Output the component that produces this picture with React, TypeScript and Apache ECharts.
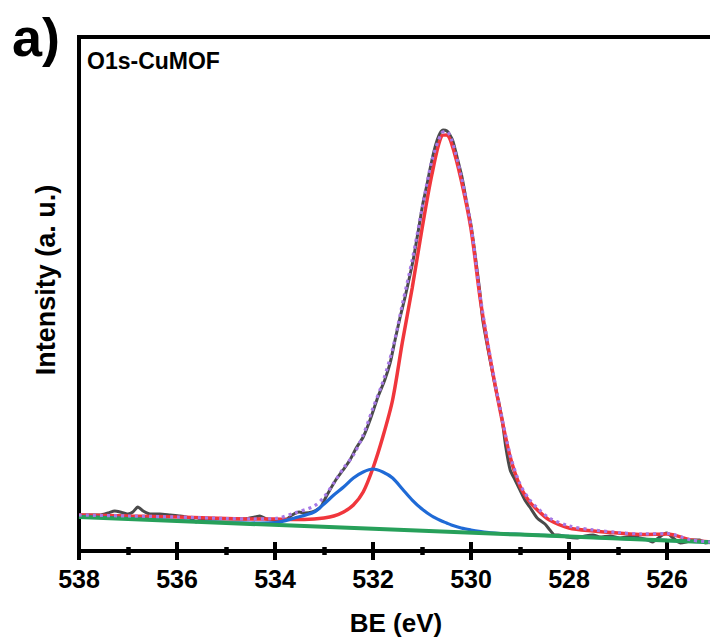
import React, { useEffect, useRef } from "react";
import * as echarts from "echarts";

// Binding energy grid of fitted curves (eV)
const beFit = [538, 537, 536, 535, 534.5, 534, 533.6, 533.2, 533.0, 532.8, 532.6, 532.4, 532.2, 532.0, 531.8, 531.6, 531.4, 531.2, 531.0, 530.8, 530.6, 530.5, 530.4, 530.2, 530.0, 529.8, 529.6, 529.4, 529.2, 529.0, 528.8, 528.6, 528.4, 528.0, 527.5, 527.0, 526.5, 526.0, 525.5, 525.1];

// Main component (red)
const peakMain = [7.0, 6.81, 6.61, 6.32, 6.23, 6.23, 6.13, 6.23, 6.42, 6.81, 7.59, 8.95, 11.48, 16.15, 22.18, 29.38, 40.66, 51.17, 62.65, 73.15, 80.74, 80.93, 79.38, 72.18, 62.65, 48.25, 36.96, 27.04, 18.29, 12.65, 9.53, 7.59, 6.03, 4.47, 3.89, 3.5, 3.21, 3.31, 2.14, 1.75];

// Second component (blue)
const peakSecond = [6.71, 6.32, 5.93, 5.54, 5.45, 5.54, 6.42, 7.59, 9.14, 10.89, 12.45, 14.2, 15.37, 15.95, 15.37, 14.2, 12.06, 9.92, 8.17, 6.81, 5.84, 5.45, 5.06, 4.47, 4.09, 3.79, 3.54, 3.4, 3.31, 3.23, 3.15, 3.07, 3.0, 2.84, 2.65, 2.45, 2.28, 2.08, 1.89, 1.73];

// Envelope (purple dotted)
const envelope = [7.0, 6.81, 6.61, 6.32, 6.23, 6.32, 7.39, 8.75, 10.51, 13.23, 16.15, 18.68, 22.57, 27.82, 32.88, 39.3, 48.05, 56.61, 66.54, 75.88, 81.32, 81.62, 80.16, 72.96, 63.23, 48.83, 37.35, 27.43, 18.68, 13.04, 9.92, 7.98, 6.42, 4.86, 4.09, 3.6, 3.31, 3.4, 2.14, 1.75];

// Background (green)
const beBg = [538, 535, 532, 529, 526, 525.1];
const background = [6.61, 5.45, 4.32, 3.19, 2.04, 1.69];

// Raw spectrum (dark grey)
const beRaw = [538.0, 537.78, 537.57, 537.41, 537.27, 537.16, 537.0, 536.9, 536.8, 536.69, 536.55, 536.35, 536.14, 535.94, 535.73, 535.61, 535.49, 535.22, 534.92, 534.61, 534.41, 534.31, 534.18, 534.0, 533.8, 533.65, 533.51, 533.39, 533.24, 533.12, 533.04, 532.96, 532.88, 532.76, 532.61, 532.47, 532.33, 532.2, 532.06, 531.9, 531.76, 531.65, 531.55, 531.45, 531.35, 531.18, 531.08, 530.98, 530.9, 530.84, 530.76, 530.69, 530.63, 530.57, 530.49, 530.43, 530.37, 530.31, 530.27, 530.18, 530.08, 530.0, 529.92, 529.82, 529.76, 529.65, 529.51, 529.37, 529.29, 529.2, 529.1, 529.0, 528.9, 528.8, 528.65, 528.49, 528.39, 528.29, 528.22, 528.04, 527.84, 527.67, 527.51, 527.37, 527.16, 526.96, 526.82, 526.69, 526.55, 526.39, 526.29, 526.18, 526.06, 526.0, 525.9, 525.73, 525.61, 525.47, 525.33, 525.22, 525.12];
const rawIntensity = [7.0, 7.0, 7.0, 7.39, 7.78, 7.59, 7.2, 7.59, 8.56, 7.78, 7.2, 7.2, 7.0, 6.81, 6.42, 5.64, 6.23, 6.23, 6.23, 6.23, 6.61, 6.81, 6.23, 6.03, 6.03, 7.0, 7.59, 7.39, 7.59, 8.17, 8.95, 10.51, 11.87, 13.81, 15.76, 17.7, 20.23, 22.18, 25.49, 29.96, 33.27, 36.58, 41.05, 45.33, 49.22, 56.61, 62.06, 67.7, 71.21, 74.12, 77.63, 79.96, 81.32, 81.91, 81.71, 80.93, 79.77, 77.63, 76.07, 72.57, 67.32, 63.42, 57.98, 50.39, 44.94, 39.11, 32.3, 25.88, 20.23, 15.76, 13.81, 11.87, 9.92, 8.56, 6.42, 5.25, 4.09, 3.11, 3.11, 2.72, 2.53, 2.92, 3.11, 2.72, 2.92, 2.53, 2.72, 2.92, 2.53, 2.14, 1.75, 2.53, 3.31, 3.5, 2.72, 1.56, 1.75, 2.14, 2.14, 1.56, 1.75];

// Tick labels shown on the BE axis
const xTickLabels = [538, 536, 534, 532, 530, 528, 526];
const xTickStep = 2;
const xMin = 524;
const xMax = 538;

const FONT = "'Liberation Sans', Arial, Helvetica, sans-serif";

const pairs = (xs: number[], ys: number[]) => xs.map((x, i) => [x, ys[i]]);

export default function App() {
  const ref = useRef<HTMLDivElement>(null);
  useEffect(() => {
    if (!ref.current) return;
    document.body.style.overflow = "hidden";
    const chart = echarts.init(ref.current, undefined, { renderer: "svg" });
    const tickColor = "#000";
    const option: any = {
      animation: false,
      backgroundColor: "#fff",
      grid: {
        left: 79,
        top: 37,
        width: 686,
        height: 514,
        show: true,
        borderColor: "#000",
        borderWidth: 4,
        backgroundColor: "transparent",
        containLabel: false,
        outerBoundsMode: "none",
      },
      xAxis: [
        {
          type: "value",
          min: xMin,
          max: xMax,
          interval: xTickStep,
          inverse: true,
          position: "bottom",
          axisLine: { show: true, onZero: false, lineStyle: { color: tickColor, width: 4 } },
          axisTick: { show: true, inside: false, length: 9, lineStyle: { color: tickColor, width: 4 } },
          minorTick: { show: true, splitNumber: 2, length: 4, lineStyle: { color: tickColor, width: 4.5 } },
          splitLine: { show: false },
          minorSplitLine: { show: false },
          axisLabel: {
            show: true,
            margin: 15,
            color: "#000",
            fontSize: 25,
            fontWeight: "bold",
            fontFamily: FONT,
            showMinLabel: false,
            showMaxLabel: true,
            formatter: (v: number) => (xTickLabels.indexOf(Math.round(v)) >= 0 ? String(Math.round(v)) : ""),
          },
        },
        {
          type: "value",
          min: xMin,
          max: xMax,
          interval: xTickStep,
          inverse: true,
          position: "bottom",
          axisLine: { show: false, onZero: false },
          axisTick: { show: true, inside: true, length: 9, lineStyle: { color: tickColor, width: 4 } },
          minorTick: { show: true, splitNumber: 2, length: 4, lineStyle: { color: tickColor, width: 4.5 } },
          splitLine: { show: false },
          axisLabel: { show: false },
        },
      ],
      yAxis: {
        type: "value",
        min: 0,
        max: 100,
        axisLine: { show: true, lineStyle: { color: "#000", width: 4 } },
        axisTick: { show: false },
        axisLabel: { show: false },
        splitLine: { show: false },
      },
      graphic: [
        {
          type: "text",
          left: 12,
          top: 10,
          style: { text: "a)", fontSize: 54, fontWeight: "bold", fontFamily: FONT, fill: "#000" },
        },
        {
          type: "text",
          left: 87,
          top: 49,
          style: { text: "O1s-CuMOF", fontSize: 23, fontWeight: "bold", fontFamily: FONT, fill: "#000" },
        },
        {
          type: "text",
          x: 46,
          y: 280,
          rotation: Math.PI / 2,
          style: {
            text: "Intensity (a. u.)",
            fontSize: 27,
            fontWeight: "bold",
            fontFamily: FONT,
            fill: "#000",
            align: "center",
            verticalAlign: "middle",
          },
        },
        {
          type: "text",
          x: 396,
          y: 623,
          style: {
            text: "BE (eV)",
            fontSize: 26,
            fontWeight: "bold",
            fontFamily: FONT,
            fill: "#000",
            align: "center",
            verticalAlign: "middle",
          },
        },
      ],
      series: [
        {
          type: "line",
          name: "raw",
          data: pairs(beRaw, rawIntensity),
          showSymbol: false,
          smooth: 0.2,
          lineStyle: { color: "#4a4a4a", width: 3 },
          z: 2,
        },
        {
          type: "line",
          name: "main",
          data: pairs(beFit, peakMain),
          showSymbol: false,
          smooth: 0.3,
          lineStyle: { color: "#f0363c", width: 3.5 },
          z: 3,
        },
        {
          type: "line",
          name: "second",
          data: pairs(beFit, peakSecond),
          showSymbol: false,
          smooth: 0.3,
          lineStyle: { color: "#1f6ad6", width: 3.2 },
          z: 4,
        },
        {
          type: "line",
          name: "background",
          data: pairs(beBg, background),
          showSymbol: false,
          lineStyle: { color: "#27a05a", width: 4 },
          z: 5,
        },
        {
          type: "line",
          name: "envelope",
          data: pairs(beFit, envelope),
          showSymbol: false,
          smooth: 0.3,
          lineStyle: { color: "#a678e6", width: 3.2, type: [3, 4] },
          z: 6,
        },
      ],
    };
    chart.setOption(option);
    return () => chart.dispose();
  }, []);
  return (
    <div
      ref={ref}
      style={{ position: "fixed", left: 0, top: 0, width: 770, height: 642 }}
    />
  );
}
